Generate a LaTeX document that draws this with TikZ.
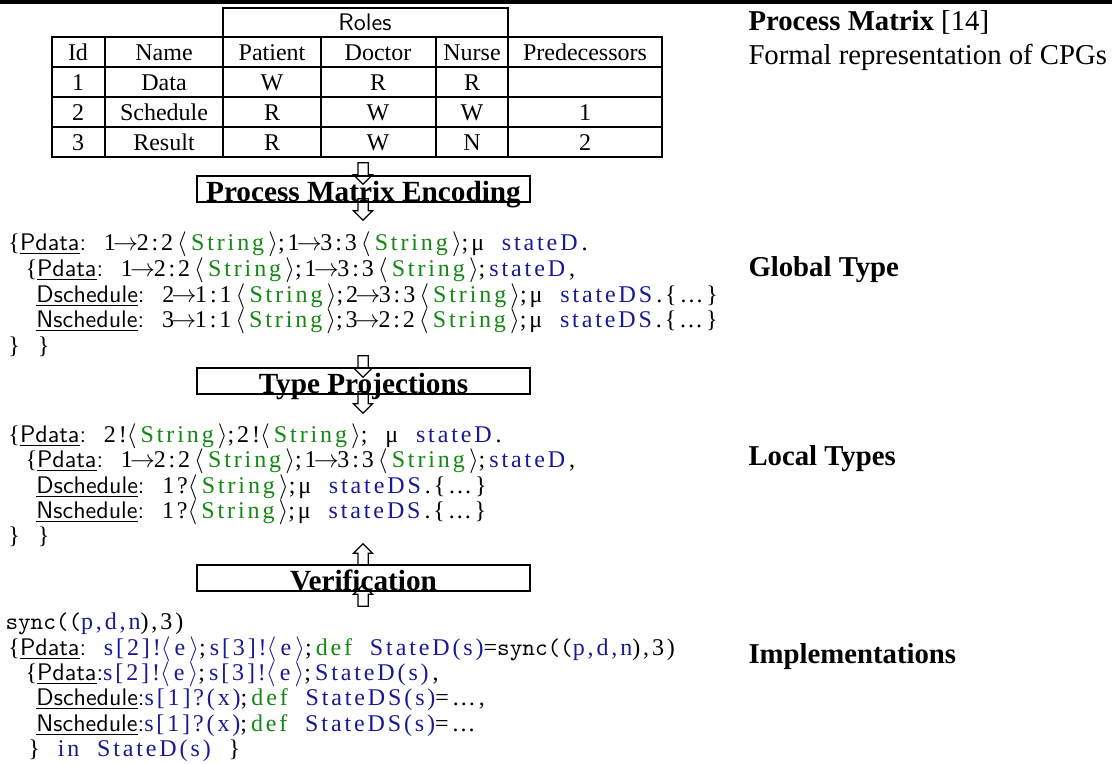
\documentclass[tikz,border=0pt]{standalone}
\usepackage{fontspec}
\setmainfont{Liberation Serif}
\newfontfamily\codefont[LetterSpace=12]{Liberation Serif}
\usetikzlibrary{shapes.arrows}
\definecolor{strgreen}{RGB}{20,135,20}
\definecolor{stblue}{RGB}{25,25,150}
\newcommand\strg{{\color{strgreen}String}}
\newcommand\st[1]{{\color{stblue}#1}}
\newcommand\df{{\color{strgreen}def}}
\newcommand\ang[1]{$\langle\,$#1$\,\rangle$}
\newcommand\ange[1]{$\langle\,$#1$\,\rangle$}
\newcommand\rolename[1]{\underline{\sffamily #1}{\sffamily :}}
\newcommand\ar{$\mkern-2mu\to\mkern-1mu$}
\begin{document}
\begin{tikzpicture}[x=0.4pt,y=-0.4pt,
    tabline/.style={line width=0.85pt},
    cell/.style={anchor=base,inner sep=0,font=\fontsize{9.6}{11}\selectfont},
    stagebox/.style={draw,line width=0.7pt,minimum width=133.2pt,inner xsep=0,inner ysep=0.4pt,
        text height=9.6pt,text depth=0pt,font=\bfseries\fontsize{11.7}{12}\selectfont},
    flowarrow/.style={single arrow,draw,line width=0.5pt,inner sep=1.8pt,
        single arrow head extend=1.8pt,minimum height=8.6pt},
    codeline/.style={anchor=base west,inner sep=0,font=\codefont\fontsize{9.6}{11}\selectfont},
    sidetext/.style={anchor=base west,inner sep=0,font=\fontsize{11.5}{13}\selectfont}]
    \useasboundingbox (0,0) rectangle (1112,763);
    \fill (0,0) rectangle (1112,3.5);
    % process matrix table
    \draw[tabline] (223,8) rectangle (508,37);
    \draw[tabline] (52,37) rectangle (662,157);
    \draw[tabline] (52,67) -- (662,67) (52,97) -- (662,97) (52,127) -- (662,127);
    \draw[tabline] (105,37) -- (105,157) (223,37) -- (223,157) (321,37) -- (321,157)
        (436,37) -- (436,157) (508,37) -- (508,157);
    \node[cell] (roles) at (365,30) {\sffamily Roles};
    \node[cell] (hid) at (78,60) {Id};
    \node[cell] (hname) at (164,60) {Name};
    \node[cell] (hpat) at (272,60) {Patient};
    \node[cell] (hdoc) at (378,60) {Doctor};
    \node[cell] (hnur) at (472,60) {Nurse};
    \node[cell] (hpre) at (585,60) {Predecessors};
    \node[cell] (id1) at (78,90) {1};
    \node[cell] (nm1) at (164,90) {Data};
    \node[cell] (p1) at (272,90) {W};
    \node[cell] (d1) at (378,90) {R};
    \node[cell] (n1) at (472,90) {R};
    \node[cell] (id2) at (78,120) {2};
    \node[cell] (nm2) at (164,120) {Schedule};
    \node[cell] (p2) at (272,120) {R};
    \node[cell] (d2) at (378,120) {W};
    \node[cell] (n2) at (472,120) {W};
    \node[cell] (pr2) at (585,120) {1};
    \node[cell] (id3) at (78,150) {3};
    \node[cell] (nm3) at (164,150) {Result};
    \node[cell] (p3) at (272,150) {R};
    \node[cell] (d3) at (378,150) {W};
    \node[cell] (n3) at (472,150) {N};
    \node[cell] (pr3) at (585,150) {2};
    % stages
    \node[stagebox] (enc) at (363.5,189) {Process Matrix Encoding};
    \node[stagebox] (proj) at (363.5,381) {Type Projections};
    \node[stagebox] (ver) at (363.5,578) {Verification};
    \node[flowarrow,rotate=-90] (enctop) at (363,171) {};
    \node[flowarrow,rotate=-90] (encbot) at (363,207) {};
    \node[flowarrow,rotate=-90] (projtop) at (363,364) {};
    \node[flowarrow,rotate=-90] (projbot) at (363,400) {};
    \node[flowarrow,rotate=90] (vertop) at (363,557) {};
    \node[flowarrow,rotate=90] (verbot) at (363,598) {};
    % global type
    \node[codeline] (g1) at (8,250) {\{\rolename{Pdata}\ \ 1\ar2:2\,\ang{\strg};1\ar3:3\,\ang{\strg};μ\ \ \st{stateD}\,.};
    \node[codeline] (g2) at (25,276) {\{\rolename{Pdata}\ \ 1\ar2:2\,\ang{\strg};1\ar3:3\,\ang{\strg};\,\st{stateD}\,,};
    \node[codeline] (g3) at (36,302) {\rolename{Dschedule}\ \ 2\ar1:1\,\ang{\strg};2\ar3:3\,\ang{\strg};μ\ \ \st{stateDS}\,.\{\dots\}};
    \node[codeline] (g4) at (36,327) {\rolename{Nschedule}\ \ 3\ar1:1\,\ang{\strg};3\ar2:2\,\ang{\strg};μ\ \ \st{stateDS}\,.\{\dots\}};
    \node[codeline] (g5) at (8,353) {\}\ \ \}};
    % local types
    \node[codeline] (l1) at (8,442) {\{\rolename{Pdata}\ \ 2!\ang{\strg};2!\ang{\strg};\ \ μ\ \ \st{stateD}\,.};
    \node[codeline] (l2) at (25,467) {\{\rolename{Pdata}\ \ 1\ar2:2\,\ang{\strg};1\ar3:3\,\ang{\strg};\,\st{stateD}\,,};
    \node[codeline] (l3) at (36,493) {\rolename{Dschedule}\ \ 1?\ang{\strg};μ\ \ \st{stateDS}\,.\{\dots\}};
    \node[codeline] (l4) at (36,518) {\rolename{Nschedule}\ \ 1?\ang{\strg};μ\ \ \st{stateDS}\,.\{\dots\}};
    \node[codeline] (l5) at (8,543) {\}\ \ \}};
    % implementations
    \node[codeline] (i1) at (5,629) {{\ttfamily sync((}\st{p,d,n}),3)};
    \node[codeline] (i2) at (8,655) {\{\rolename{Pdata}\ \ \st{s[2]!\ange{e}};\,\st{s[3]!\ange{e}};\,\df\ \ \st{StateD(s)}={\ttfamily sync((}\st{p,d,n}),3)};
    \node[codeline] (i3) at (25,680) {\{\rolename{Pdata}\st{s[2]!\ange{e}};\,\st{s[3]!\ange{e}};\,\st{StateD(s)}\,,};
    \node[codeline] (i4) at (36,705) {\rolename{Dschedule}\st{s[1]?(x)};\,\df\ \ \st{StateDS(s)}=\dots,};
    \node[codeline] (i5) at (36,731) {\rolename{Nschedule}\st{s[1]?(x)};\,\df\ \ \st{StateDS(s)}=\dots};
    \node[codeline] (i6) at (28,756) {\}\ \ \st{in}\ \ \st{StateD(s)}\ \ \}};
    % side labels
    \node[sidetext] (pm) at (748,30) {\textbf{Process Matrix} [14]};
    \node[sidetext] (pmdesc) at (748,64) {Formal representation of CPGs};
    \node[sidetext] (gt) at (748,276) {\textbf{Global Type}};
    \node[sidetext] (lt) at (748,465) {\textbf{Local Types}};
    \node[sidetext] (impl) at (748,663) {\textbf{Implementations}};
\end{tikzpicture}
\end{document}
